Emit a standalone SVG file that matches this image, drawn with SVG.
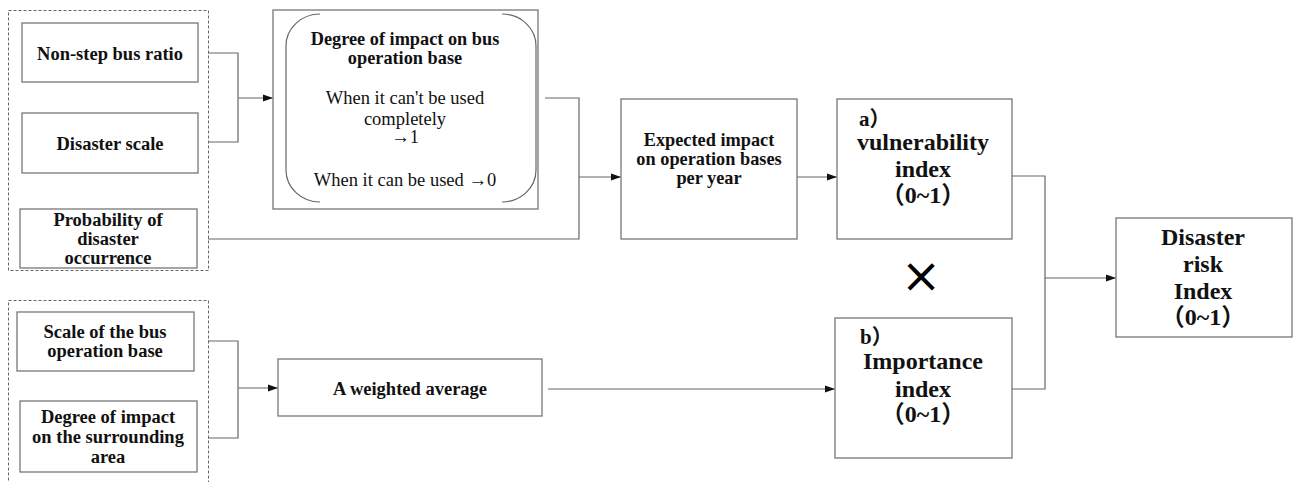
<svg xmlns="http://www.w3.org/2000/svg" width="1293" height="482" viewBox="0 0 1293 482">
<defs>
<style>
.box{fill:#fff;stroke:#777;stroke-width:1.3}
.dash{fill:none;stroke:#666;stroke-width:1;stroke-dasharray:3 2}
.ln{fill:none;stroke:#666;stroke-width:1.2}
.t{font-family:"Liberation Serif","Noto Sans CJK JP",serif;font-weight:bold;fill:#111;text-anchor:middle}
.s{font-size:18.5px}
.m{font-size:18.3px}
.r{font-family:"Liberation Serif",serif;font-size:18.5px;fill:#111;text-anchor:middle}
.b{font-size:24px}
.lb{font-size:21px;text-anchor:start}
</style>
<marker id="ar" markerWidth="10" markerHeight="8" refX="9" refY="4" orient="auto" markerUnits="userSpaceOnUse">
<path d="M0,0.5 L10,4 L0,7.5 Z" fill="#111"/>
</marker>
</defs>
<rect width="1293" height="482" fill="#fff"/>
<g id="group1"><rect class="dash" x="8.5" y="10.5" width="200" height="260"/></g>
<g id="group2"><rect class="dash" x="8.5" y="300.5" width="200" height="200"/></g>
<g id="n-nonstep"><rect class="box" x="22" y="23" width="176" height="59"/><text class="t s" x="110" y="60">Non-step bus ratio</text></g>
<g id="n-scale"><rect class="box" x="22" y="113" width="176" height="60"/><text class="t s" x="110" y="150">Disaster scale</text></g>
<g id="n-prob"><rect class="box" x="20" y="209" width="177" height="59"/><text class="t s" x="108" y="226">Probability of</text><text class="t s" x="108" y="245">disaster</text><text class="t s" x="108" y="264">occurrence</text></g>
<g id="n-degree"><rect class="box" x="273" y="10" width="265" height="199"/>
<path class="ln" d="M320,14 A34,32 0 0 0 286,46 L286,170 A34,32 0 0 0 320,202"/>
<path class="ln" d="M502,14 A34,32 0 0 1 536,46 L536,170 A34,32 0 0 1 502,202"/>
<text class="t m" x="405" y="45">Degree of impact on bus</text><text class="t m" x="405" y="64">operation base</text>
<text class="r" x="405" y="104">When it can't be used</text><text class="r" x="405" y="125">completely</text><text class="r" x="405" y="143">→1</text><text class="r" x="405" y="186">When it can be used →0</text></g>
<g id="n-expected"><rect class="box" x="621" y="99" width="176" height="140"/><text class="t m" x="709" y="146">Expected impact</text><text class="t m" x="709" y="165">on operation bases</text><text class="t m" x="709" y="184">per year</text></g>
<g id="n-vuln"><rect class="box" x="837" y="99" width="175" height="140"/><text class="t lb" x="859" y="126">a）</text><text class="t b" x="923" y="150">vulnerability</text><text class="t b" x="923" y="177">index</text><text class="t b" x="923" y="203">（0~1）</text></g>
<g id="n-risk"><rect class="box" x="1116" y="218" width="176" height="119"/><text class="t b" x="1203" y="245">Disaster</text><text class="t b" x="1203" y="272">risk</text><text class="t b" x="1203" y="299">Index</text><text class="t b" x="1203" y="325">（0~1）</text></g>
<g id="n-busscale"><rect class="box" x="17" y="312" width="177" height="59"/><text class="t s" x="105" y="338">Scale of the bus</text><text class="t s" x="105" y="357">operation base</text></g>
<g id="n-surround"><rect class="box" x="20" y="401" width="177" height="71"/><text class="t s" x="108" y="423">Degree of impact</text><text class="t s" x="108" y="443">on the surrounding</text><text class="t s" x="108" y="463">area</text></g>
<g id="n-weighted"><rect class="box" x="278" y="359" width="264" height="57"/><text class="t s" x="410" y="395">A weighted average</text></g>
<g id="n-import"><rect class="box" x="835" y="318" width="177" height="140"/><text class="t lb" x="860" y="344">b）</text><text class="t b" x="923" y="369">Importance</text><text class="t b" x="923" y="397">index</text><text class="t b" x="923" y="422">（0~1）</text></g>
<g id="times"><text x="921" y="292" style="font-family:'DejaVu Sans',sans-serif;font-size:48px;text-anchor:middle;fill:#000">×</text></g>
<g id="connectors">
<path class="ln" d="M208,53 H238 V142 H208"/>
<path class="ln" d="M238,98 H272" marker-end="url(#ar)"/>
<path class="ln" d="M208,239 H579 V98 H545"/>
<path class="ln" d="M579,177 H620" marker-end="url(#ar)"/>
<path class="ln" d="M797,177 H836" marker-end="url(#ar)"/>
<path class="ln" d="M208,341 H238 V438 H208"/>
<path class="ln" d="M238,388 H277" marker-end="url(#ar)"/>
<path class="ln" d="M548,389 H834" marker-end="url(#ar)"/>
<path class="ln" d="M1012,176 H1045 V389 H1012"/>
<path class="ln" d="M1045,278 H1115" marker-end="url(#ar)"/>
</g>
</svg>
